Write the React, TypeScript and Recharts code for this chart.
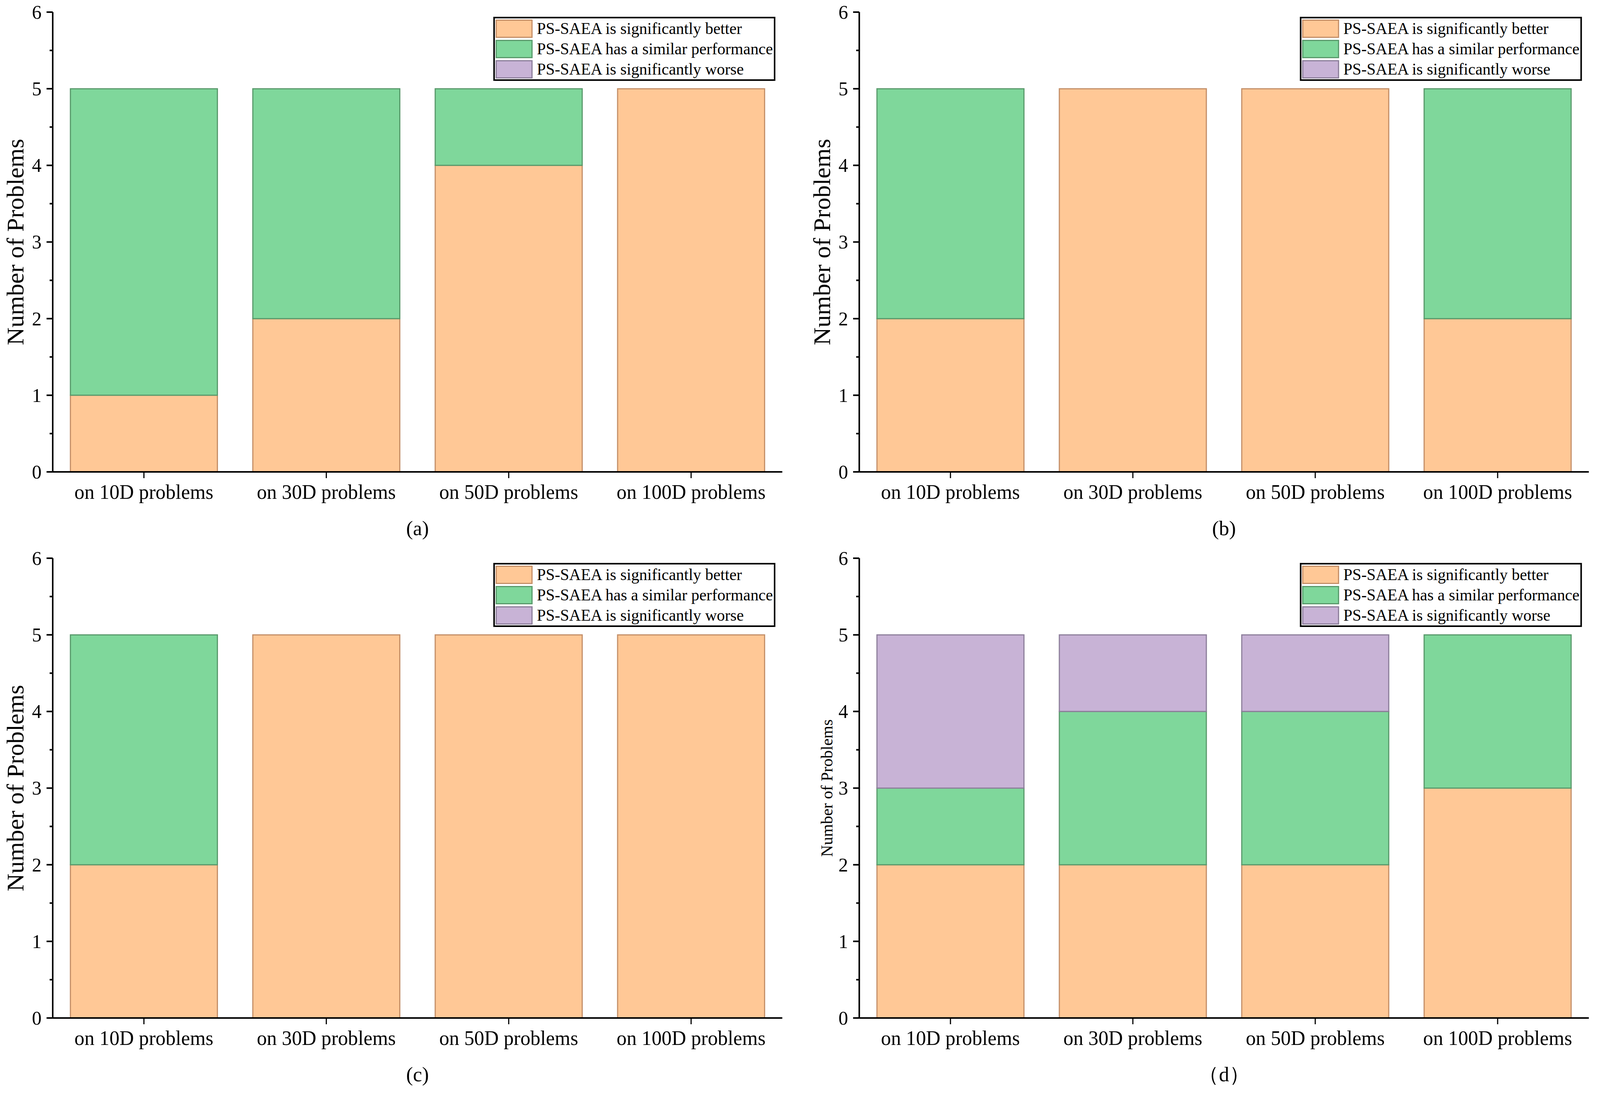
import React from 'react'
import { BarChart, Bar, XAxis, YAxis, Legend } from 'recharts'

const FONT = '"Liberation Serif", "Times New Roman", serif'

const CATEGORIES = ['on 10D problems', 'on 30D problems', 'on 50D problems', 'on 100D problems']
const SERIES_NAMES = [
  'PS-SAEA is significantly better',
  'PS-SAEA has a similar performance',
  'PS-SAEA is significantly worse',
]
const Y_TICKS = [0, 0.5, 1, 1.5, 2, 2.5, 3, 3.5, 4, 4.5, 5, 5.5, 6]

// counts per category: better / similar / worse
const A_BETTER = [1, 2, 4, 5]
const A_SIMILAR = [4, 3, 1, 0]
const A_WORSE = [0, 0, 0, 0]

const B_BETTER = [2, 5, 5, 2]
const B_SIMILAR = [3, 0, 0, 3]
const B_WORSE = [0, 0, 0, 0]

const C_BETTER = [2, 5, 5, 5]
const C_SIMILAR = [3, 0, 0, 0]
const C_WORSE = [0, 0, 0, 0]

const D_BETTER = [2, 2, 2, 3]
const D_SIMILAR = [1, 2, 2, 2]
const D_WORSE = [2, 1, 1, 0]

const FILLS = ['#FFC896', '#7FD79B', '#C8B3D6']
const STROKES = ['#C48F68', '#5A9A6C', '#8D7F9B']
const KEYS = ['better', 'similar', 'worse']

const PAGE_W = 4158
const PAGE_H = 2798
const W = 2062
const H = 1398
const AXIS_W = 137
const PLOT_W = 1896

const YTick = (props: any) => {
  const { x, y, payload } = props
  const axisX = x + 29
  const v = payload.value
  const major = Number.isInteger(v)
  return (
    <g>
      <line x1={axisX - (major ? 16 : 8)} x2={axisX} y1={y} y2={y} stroke="#000" strokeWidth={4} />
      {major && (
        <text x={x} y={y} dy="0.34em" textAnchor="end" fontSize={50} fill="#000" fontFamily={FONT}>
          {v}
        </text>
      )}
    </g>
  )
}

const LegendBox = () => (
  <div
    style={{
      boxSizing: 'border-box',
      width: 733,
      border: '4px solid #000',
      background: '#fff',
      padding: '0 0 0 2px',
      fontFamily: FONT,
      color: '#000',
    }}
  >
    {SERIES_NAMES.map((name, i) => (
      <div key={name} style={{ display: 'flex', alignItems: 'center', height: 52 }}>
        <div
          style={{
            boxSizing: 'border-box',
            width: 96,
            height: 47,
            background: FILLS[i],
            border: `3px solid ${STROKES[i]}`,
          }}
        />
        <span style={{ marginLeft: 11, fontSize: 42, lineHeight: 1, whiteSpace: 'nowrap' }}>{name}</span>
      </div>
    ))}
  </div>
)

function Panel({
  better, similar, worse, label, left, top, yLabelSize, yLabelX,
}: {
  better: number[]; similar: number[]; worse: number[]; label: string
  left: number; top: number; yLabelSize: number; yLabelX: number
}) {
  const data = CATEGORIES.map((name, i) => ({
    name, better: better[i], similar: similar[i], worse: worse[i],
  }))
  return (
    <div style={{ position: 'absolute', left, top, width: W, height: H }}>
      <BarChart
        width={W}
        height={H}
        data={data}
        margin={{ top: 31, right: W - AXIS_W - PLOT_W, bottom: 90, left: 0 }}
        barCategoryGap="9.7%"
      >
        <XAxis
          dataKey="name"
          interval={0}
          height={100}
          tick={{ fontSize: 52, fill: '#000', fontFamily: FONT }}
          tickSize={16}
          tickMargin={16}
          tickLine={{ stroke: '#000', strokeWidth: 3 }}
          axisLine={{ stroke: '#000', strokeWidth: 4 }}
        />
        <XAxis xAxisId="top" dataKey="name" orientation="top" height={0} tick={false} tickLine={false}
          axisLine={{ stroke: '#000', strokeWidth: 4 }} />
        <YAxis
          width={AXIS_W}
          type="number"
          domain={[0, 6]}
          ticks={Y_TICKS}
          interval={0}
          tickSize={16}
          tickMargin={13}
          tickLine={false}
          tick={YTick}
          axisLine={{ stroke: '#000', strokeWidth: 4 }}
          label={{
            content: (p: any) => {
              const vb = p.viewBox
              const cy = vb.y + vb.height / 2
              return (
                <text
                  x={yLabelX}
                  y={cy}
                  transform={`rotate(-90 ${yLabelX} ${cy})`}
                  textAnchor="middle"
                  dominantBaseline="central"
                  fontSize={yLabelSize}
                  fontFamily={FONT}
                  fill="#000"
                >
                  Number of Problems
                </text>
              )
            },
          }}
        />
        <YAxis yAxisId="right" orientation="right" width={0} type="number" domain={[0, 6]} tick={false}
          tickLine={false} axisLine={{ stroke: '#000', strokeWidth: 4 }} />
        <Legend
          layout="vertical"
          align="center"
          verticalAlign="middle"
          wrapperStyle={{ left: AXIS_W + PLOT_W - 18 - 733, top: 43, width: 733 }}
          content={() => <LegendBox />}
        />
        {KEYS.map((k, i) => (
          <Bar
            key={k}
            dataKey={k}
            name={SERIES_NAMES[i]}
            stackId="s"
            fill={FILLS[i]}
            stroke={STROKES[i]}
            strokeWidth={3}
            isAnimationActive={false}
          />
        ))}
      </BarChart>
      <div
        style={{
          position: 'absolute',
          left: AXIS_W,
          width: PLOT_W,
          top: 1326,
          textAlign: 'center',
          fontSize: 53,
          lineHeight: 1,
          fontFamily: FONT,
          color: '#000',
        }}
      >
        {label}
      </div>
    </div>
  )
}

export default function App() {
  // fit the fixed-size figure into whatever viewport we actually get
  const vw = typeof window !== 'undefined' ? document.documentElement.clientWidth || PAGE_W : PAGE_W
  const vh = typeof window !== 'undefined' ? document.documentElement.clientHeight || PAGE_H : PAGE_H
  const sx = Math.min(1, vw / PAGE_W)
  const sy = Math.min(1, vh / PAGE_H)
  return (
    <div style={{ position: 'relative', width: PAGE_W * sx, height: PAGE_H * sy, overflow: 'hidden' }}>
      <style>{'html,body{margin:0;padding:0;overflow:hidden;background:#fff}'}</style>
      <div
        style={{
          position: 'absolute',
          left: 0,
          top: 0,
          width: PAGE_W,
          height: PAGE_H,
          background: '#fff',
          fontFamily: FONT,
          transform: `scale(${sx}, ${sy})`,
          transformOrigin: '0 0',
        }}
      >
        <Panel better={A_BETTER} similar={A_SIMILAR} worse={A_WORSE} label="(a)" left={0} top={0} yLabelSize={63} yLabelX={40} />
        <Panel better={B_BETTER} similar={B_SIMILAR} worse={B_WORSE} label="(b)" left={2096} top={0} yLabelSize={63} yLabelX={40} />
        <Panel better={C_BETTER} similar={C_SIMILAR} worse={C_WORSE} label="(c)" left={0} top={1398} yLabelSize={63} yLabelX={40} />
        <Panel better={D_BETTER} similar={D_SIMILAR} worse={D_WORSE} label="（d）" left={2096} top={1398} yLabelSize={42} yLabelX={53} />
      </div>
    </div>
  )
}
